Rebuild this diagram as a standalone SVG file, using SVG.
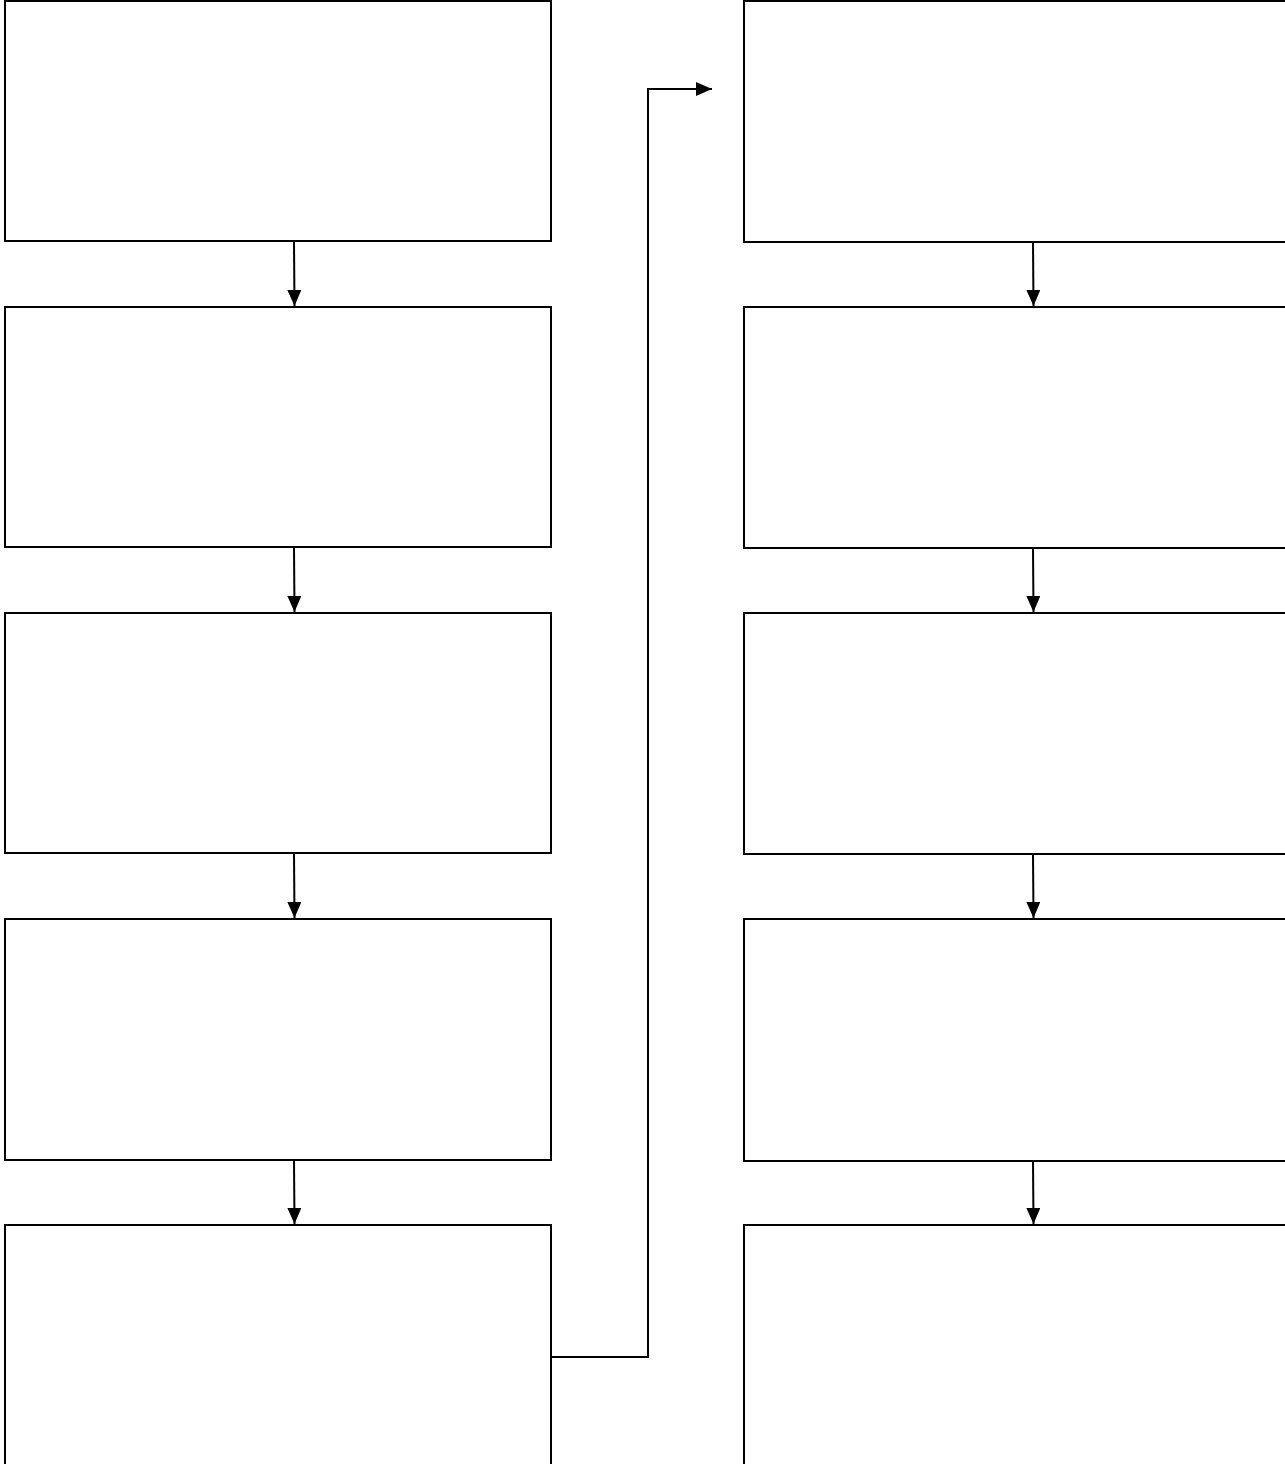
<svg xmlns="http://www.w3.org/2000/svg" width="1285" height="1464" viewBox="0 0 1285 1464">
<style>
.box{fill:#fff;stroke:#000;stroke-width:2}
.con{fill:none;stroke:#000;stroke-width:2}
</style>
<defs>
<marker id="ah" viewBox="0 0 16 14" refX="16" refY="7" markerWidth="16" markerHeight="14" markerUnits="userSpaceOnUse" orient="auto">
<path d="M0,0 L16,7 L0,14 Z" fill="#000"/>
</marker>
</defs>
<rect width="1285" height="1464" fill="#fff"/>
<g id="nodes">
<g id="L1"><rect class="box" x="5" y="1" width="546" height="240"/></g>
<g id="L2"><rect class="box" x="5" y="307" width="546" height="240"/></g>
<g id="L3"><rect class="box" x="5" y="613" width="546" height="240"/></g>
<g id="L4"><rect class="box" x="5" y="919" width="546" height="241"/></g>
<g id="L5"><rect class="box" x="5" y="1225" width="546" height="260"/></g>
<g id="R1"><rect class="box" x="744" y="1" width="560" height="241"/></g>
<g id="R2"><rect class="box" x="744" y="307" width="560" height="241"/></g>
<g id="R3"><rect class="box" x="744" y="613" width="560" height="241"/></g>
<g id="R4"><rect class="box" x="744" y="919" width="560" height="242"/></g>
<g id="R5"><rect class="box" x="744" y="1225" width="560" height="260"/></g>
</g>
<g id="connectors">
<path class="con" d="M294,242 L294.5,306" marker-end="url(#ah)"/>
<path class="con" d="M294,548 L294.5,612" marker-end="url(#ah)"/>
<path class="con" d="M294,854 L294.5,918" marker-end="url(#ah)"/>
<path class="con" d="M294,1161 L294.5,1224" marker-end="url(#ah)"/>
<path class="con" d="M1033,243 L1033.5,306" marker-end="url(#ah)"/>
<path class="con" d="M1033,549 L1033.5,612" marker-end="url(#ah)"/>
<path class="con" d="M1033,855 L1033.5,918" marker-end="url(#ah)"/>
<path class="con" d="M1033,1162 L1033.5,1224" marker-end="url(#ah)"/>
<path class="con" d="M552,1357 L648,1357 L648,89 L712,89" marker-end="url(#ah)"/>
</g>
</svg>
